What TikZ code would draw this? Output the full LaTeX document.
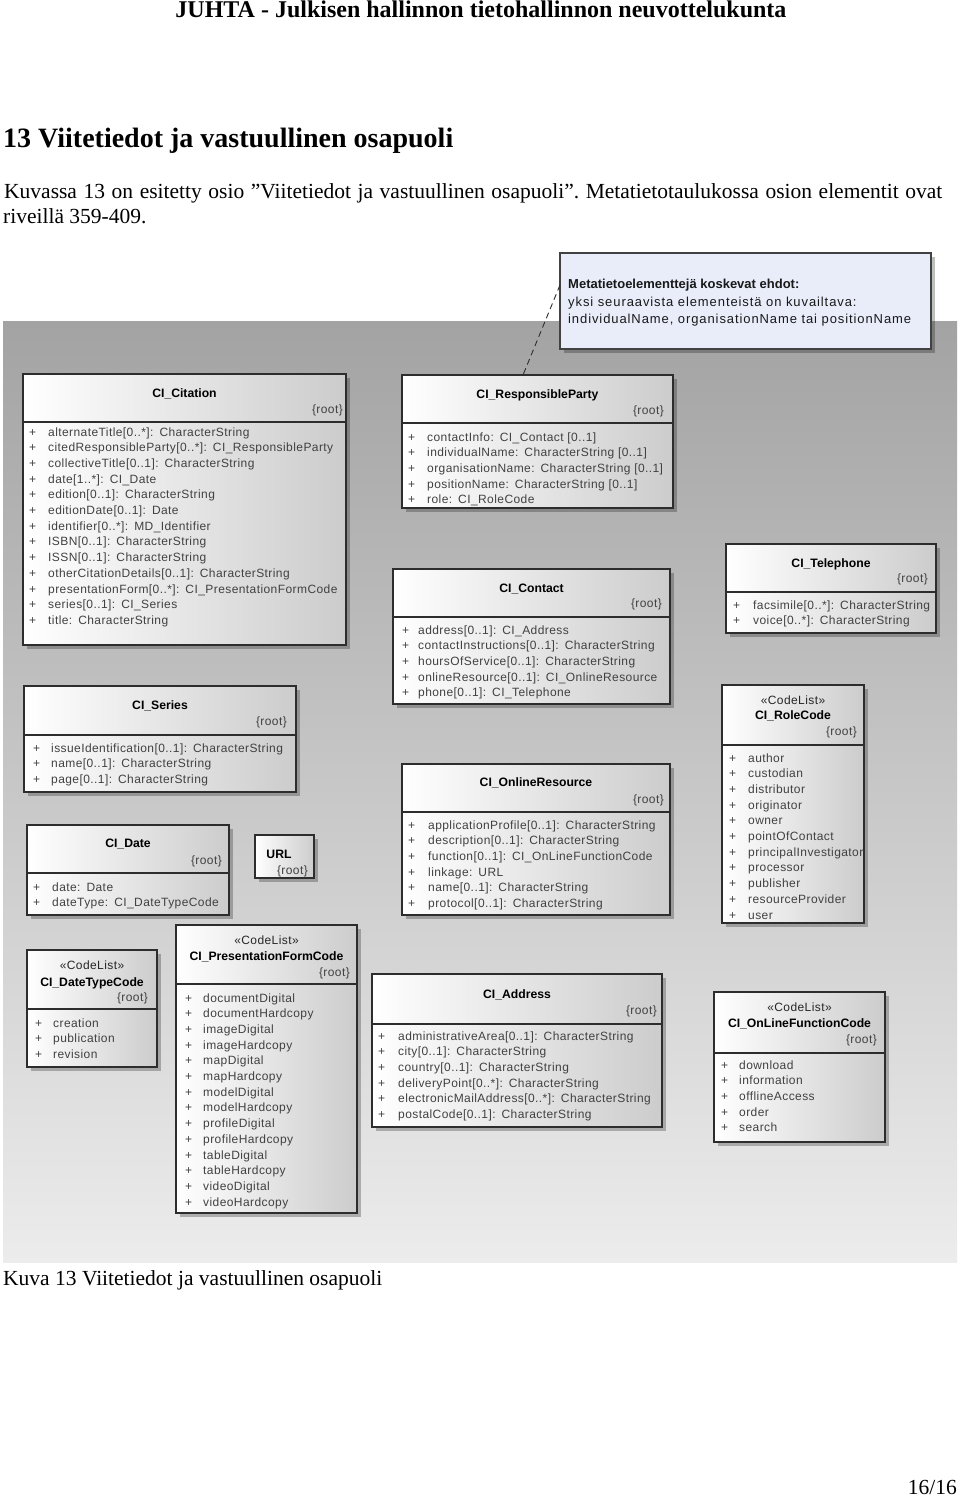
\documentclass[tikz,border=0pt]{standalone}
\usepackage{fontspec}
\setmainfont{Liberation Serif}
\newfontfamily\umlfont[LetterSpace=3.5]{Liberation Sans}
\newfontfamily\umlplain{Liberation Sans}
\newfontfamily\notefont[LetterSpace=7]{Liberation Sans}
\usetikzlibrary{positioning,calc}
\definecolor{pagegraytop}{RGB}{163,163,163}
\definecolor{pagegraybot}{RGB}{236,236,236}
\definecolor{boxgray}{RGB}{204,204,204}
\definecolor{boxline}{RGB}{45,45,45}
\definecolor{attrgray}{RGB}{65,65,65}
\definecolor{notefill}{RGB}{233,237,250}
\tikzset{umlbox/.style={draw=boxline, line width=1.2pt, left color=white, right color=boxgray, inner sep=0pt, outer sep=0pt}}
\tikzset{umlshadow/.style={fill=black, fill opacity=0.25}}
\tikzset{umlsep/.style={draw=boxline, line width=1.1pt}}
\tikzset{umlname/.style={font=\umlplain\bfseries\fontsize{12.2}{14}\selectfont, inner sep=0pt, anchor=base}}
\tikzset{umlstereo/.style={font=\umlfont\fontsize{12}{14}\selectfont, text=black!85, inner sep=0pt, anchor=base}}
\tikzset{umlroot/.style={font=\umlfont\fontsize{12}{14}\selectfont, text=attrgray, inner sep=0pt, anchor=base east}}
\tikzset{umlattr/.style={font=\umlfont\fontsize{12}{14}\selectfont, text=attrgray, inner sep=0pt, anchor=base west}}
\tikzset{notebox/.style={draw=boxline!90, line width=1.2pt, fill=notefill, inner sep=0pt, outer sep=0pt}}
\tikzset{notetext/.style={font=\notefont\fontsize{13}{17}\selectfont, text=black!90, inner sep=0pt, anchor=base west}}
\tikzset{notelink/.style={draw=boxline, line width=0.9pt, dash pattern=on 6pt off 4pt}}
\tikzset{pagetext/.style={font=\fontsize{21.5}{25}\selectfont, inner sep=0pt, anchor=base west}}
\newcommand\umlclass[6]{
		\fill[umlshadow] (#2+4,#3+4) rectangle (#4+4,#5+4);
		\node[umlbox, minimum width={(#4-#2)*1pt}, minimum height={(#5-#3)*1pt}] (#1) at ({(#2+#4)/2},{(#3+#5)/2}) {};
		\draw[umlsep] (#2,#6) -- (#4,#6);
	}
\newcommand\umlhead[5]{
		\node[umlname] (#1-name) at (#1.center |- 0,#3) {#2};
		\node[umlroot] (#1-root) at (#4,#5) {\{root\}};
	}
\newcommand\umlattrs[5]{
		\foreach \attr [count=\n from 0] in {#5} {
			\node[umlattr] (#1-plus\n) at (#2,#4+\n*15.7) {+};
			\node[umlattr] (#1-attr\n) at (#3,#4+\n*15.7) {\attr};
		}
	}

\begin{document}
\frenchspacing
\begin{tikzpicture}[x=1pt, y=-1pt]
			\fill[white] (0,0) rectangle (960,1497);
			\useasboundingbox (0,0) rectangle (960,1497);

			% page text
			\node[font=\bfseries\fontsize{24}{28}\selectfont, inner sep=0pt, anchor=base] (header) at (481,17) {JUHTA - Julkisen hallinnon tietohallinnon neuvottelukunta};
			\node[pagetext, font=\bfseries\fontsize{28}{32}\selectfont] (title) at (3,147) {13 Viitetiedot ja vastuullinen osapuoli};
			\node[pagetext] (body1) at (4,198) {\makebox[938pt][s]{Kuvassa 13 on esitetty osio ”Viitetiedot ja vastuullinen osapuoli”. Metatietotaulukossa osion elementit ovat}};
			\node[pagetext] (body2) at (3,223) {riveillä 359-409.};
			\node[pagetext] (caption) at (3,1285) {Kuva 13 Viitetiedot ja vastuullinen osapuoli};
			\node[pagetext, anchor=base east] (pagenum) at (957,1494) {16/16};

			% diagram background
			\fill[top color=pagegraytop, bottom color=pagegraybot] (3,321) rectangle (957,1262);

			\umlclass{cit}{23}{374}{346}{645}{422}
			\umlhead{cit}{CI\_Citation}{397}{343}{413}
			\umlattrs{cit}{29}{48}{436}{alternateTitle[0..*]:\enspace CharacterString, citedResponsibleParty[0..*]:\enspace CI\_ResponsibleParty, collectiveTitle[0..1]:\enspace CharacterString, date[1..*]:\enspace CI\_Date, edition[0..1]:\enspace CharacterString, editionDate[0..1]:\enspace Date, identifier[0..*]:\enspace MD\_Identifier, ISBN[0..1]:\enspace CharacterString, ISSN[0..1]:\enspace CharacterString, otherCitationDetails[0..1]:\enspace CharacterString, presentationForm[0..*]:\enspace CI\_PresentationFormCode, series[0..1]:\enspace CI\_Series, title:\enspace CharacterString}

			\umlclass{rp}{402}{375}{673}{508}{423}
			\umlhead{rp}{CI\_ResponsibleParty}{398}{664}{414}
			\umlattrs{rp}{408}{427}{441}{contactInfo:\enspace CI\_Contact [0..1], individualName:\enspace CharacterString [0..1], organisationName:\enspace CharacterString [0..1], positionName:\enspace CharacterString [0..1], role:\enspace CI\_RoleCode}

			\umlclass{con}{393}{569}{670}{704}{617}
			\umlhead{con}{CI\_Contact}{592}{662}{607}
			\umlattrs{con}{402}{418}{634}{address[0..1]:\enspace CI\_Address, contactInstructions[0..1]:\enspace CharacterString, hoursOfService[0..1]:\enspace CharacterString, onlineResource[0..1]:\enspace CI\_OnlineResource, phone[0..1]:\enspace CI\_Telephone}

			\umlclass{tel}{726}{544}{936}{633}{592}
			\umlhead{tel}{CI\_Telephone}{567}{928}{582}
			\umlattrs{tel}{733}{753}{609}{facsimile[0..*]:\enspace CharacterString, voice[0..*]:\enspace CharacterString}

			\umlclass{role}{722}{685}{864}{923}{745}
			\node[umlstereo] (role-stereo) at (role.center |- 0,704) {«CodeList»};
			\umlhead{role}{CI\_RoleCode}{719}{857}{735}
			\umlattrs{role}{729}{748}{762}{author, custodian, distributor, originator, owner, pointOfContact, principalInvestigator, processor, publisher, resourceProvider, user}

			\umlclass{ser}{24}{686}{296}{792}{735}
			\umlhead{ser}{CI\_Series}{709}{287}{725}
			\umlattrs{ser}{33}{51}{752}{issueIdentification[0..1]:\enspace CharacterString, name[0..1]:\enspace CharacterString, page[0..1]:\enspace CharacterString}

			\umlclass{date}{27}{825}{229}{915}{873}
			\umlhead{date}{CI\_Date}{847}{222}{864}
			\umlattrs{date}{33}{52}{891}{date:\enspace Date, dateType:\enspace CI\_DateTypeCode}

			\fill[umlshadow] (259,839) rectangle (318,882);
			\node[umlbox, minimum width=59pt, minimum height=43pt] (url) at (284.5,856.5) {};
			\node[umlname] (url-name) at (279,858) {URL};
			\node[umlroot] (url-root) at (308,874) {\{root\}};

			\umlclass{onl}{402}{764}{670}{915}{812}
			\umlhead{onl}{CI\_OnlineResource}{786}{664}{803}
			\umlattrs{onl}{408}{428}{829}{applicationProfile[0..1]:\enspace CharacterString, description[0..1]:\enspace CharacterString, function[0..1]:\enspace CI\_OnLineFunctionCode, linkage:\enspace URL, name[0..1]:\enspace CharacterString, protocol[0..1]:\enspace CharacterString}

			\umlclass{dtc}{27}{950}{157}{1067}{1009}
			\node[umlstereo] (dtc-stereo) at (dtc.center |- 0,969) {«CodeList»};
			\umlhead{dtc}{CI\_DateTypeCode}{986}{148}{1001}
			\umlattrs{dtc}{35}{53}{1027}{creation, publication, revision}

			\umlclass{pfc}{176}{925}{357}{1213}{984}
			\node[umlstereo] (pfc-stereo) at (pfc.center |- 0,944) {«CodeList»};
			\umlhead{pfc}{CI\_PresentationFormCode}{960}{350}{976}
			\umlattrs{pfc}{185}{203}{1002}{documentDigital, documentHardcopy, imageDigital, imageHardcopy, mapDigital, mapHardcopy, modelDigital, modelHardcopy, profileDigital, profileHardcopy, tableDigital, tableHardcopy, videoDigital, videoHardcopy}

			\umlclass{adr}{372}{974}{662}{1127}{1024}
			\umlhead{adr}{CI\_Address}{998}{657}{1014}
			\umlattrs{adr}{378}{398}{1040}{administrativeArea[0..1]:\enspace CharacterString, city[0..1]:\enspace CharacterString, country[0..1]:\enspace CharacterString, deliveryPoint[0..*]:\enspace CharacterString, electronicMailAddress[0..*]:\enspace CharacterString, postalCode[0..1]:\enspace CharacterString}

			\umlclass{olf}{714}{992}{885}{1142}{1053}
			\node[umlstereo] (olf-stereo) at (olf.center |- 0,1011) {«CodeList»};
			\umlhead{olf}{CI\_OnLineFunctionCode}{1027}{877}{1043}
			\umlattrs{olf}{721}{739}{1069}{download, information, offlineAccess, order, search}

			% constraint note
			\fill[umlshadow] (564,257) rectangle (935,353);
			\node[notebox, minimum width=371pt, minimum height=96pt] (note) at (745.5,301) {};
			\node[notetext, font=\umlplain\bfseries\fontsize{13}{17}\selectfont] (note-head) at (568,288) {Metatietoelementtejä koskevat ehdot:};
			\node[notetext] (note-line1) at (568,306) {yksi seuraavista elementeistä on kuvailtava:};
			\node[notetext] (note-line2) at (568,323) {individualName, organisationName tai positionName};
			\draw[notelink] (note.west |- 0,285) -- (rp.north -| 523,0);
		\end{tikzpicture}
\end{document}
